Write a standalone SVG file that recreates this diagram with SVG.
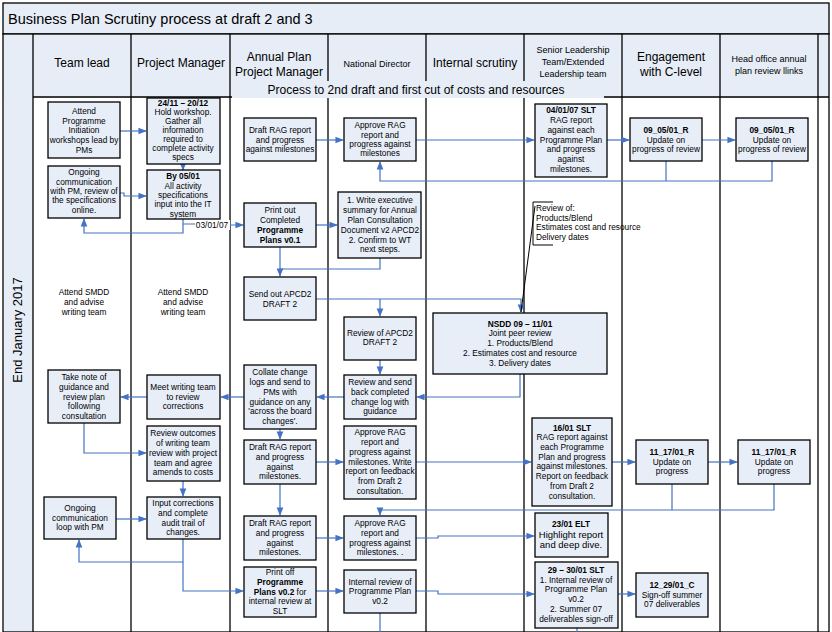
<svg xmlns="http://www.w3.org/2000/svg" width="832" height="632" viewBox="0 0 832 632">
<defs>
<style>
.b{fill:#E8EEF8;stroke:#000;stroke-width:1.3}
.t{font-family:"Liberation Sans",Arial,sans-serif;font-size:8.3px;fill:#000;text-anchor:middle}
.bd{font-weight:bold}
.h{font-family:"Liberation Sans",Arial,sans-serif;font-size:12px;fill:#000;text-anchor:middle}
.hs{font-family:"Liberation Sans",Arial,sans-serif;font-size:9px;fill:#000;text-anchor:middle}
.c{fill:none;stroke:#4472C4;stroke-width:1.2}
.ln{stroke:#000;stroke-width:1.3}
</style>
<marker id="a" viewBox="0 0 10 10" refX="9" refY="5" markerWidth="7" markerHeight="7" orient="auto"><path d="M0,1 L10,5 L0,9 Z" fill="#4472C4"/></marker>
</defs>
<rect x="0" y="0" width="832" height="632" fill="#fff"/>
<g id="frame">
<rect x="3" y="3" width="826" height="31" fill="#E6EDF7" stroke="#000" stroke-width="1.3"/>
<text x="8" y="24" font-family="Liberation Sans,Arial,sans-serif" font-size="14.5">Business Plan Scrutiny process at draft 2 and 3</text>
<rect x="3" y="34" width="826" height="64" fill="#E6EDF7"/>
<rect x="4" y="34" width="29" height="598" fill="#E6EDF7"/>
<rect x="3" y="34" width="826" height="598" fill="none" stroke="#000" stroke-width="1.3"/>
<line class="ln" x1="33" y1="97" x2="829" y2="97"/>
<line class="ln" x1="33" y1="34" x2="33" y2="632"/>
<line class="ln" x1="131" y1="34" x2="131" y2="632"/>
<line class="ln" x1="230" y1="34" x2="230" y2="632"/>
<line class="ln" x1="328" y1="34" x2="328" y2="632"/>
<line class="ln" x1="426" y1="34" x2="426" y2="632"/>
<line class="ln" x1="524" y1="34" x2="524" y2="632"/>
<line class="ln" x1="622" y1="34" x2="622" y2="632"/>
<line class="ln" x1="720" y1="34" x2="720" y2="632"/>
<line class="ln" x1="818" y1="34" x2="818" y2="632"/>
<text class="h" x="82" y="67">Team lead</text>
<text class="h" x="181" y="67">Project Manager</text>
<text class="h" x="279" y="61">Annual Plan</text>
<text class="h" x="279" y="76">Project Manager</text>
<text class="hs" x="377" y="67">National Director</text>
<text class="h" x="475" y="67">Internal scrutiny</text>
<text class="hs" x="573" y="53">Senior Leadership</text>
<text class="hs" x="573" y="65">Team/Extended</text>
<text class="hs" x="573" y="77">Leadership team</text>
<text class="h" x="671" y="61">Engagement</text>
<text class="h" x="671" y="76">with C-level</text>
<text class="hs" x="769" y="62">Head office annual</text>
<text class="hs" x="769" y="74">plan review llinks</text>
<rect x="232" y="81" width="372" height="17" fill="#E6EDF7"/>
<text class="h" x="416" y="94" font-size="13">Process to 2nd draft and first cut of costs and resources</text>
<text x="22" y="330" transform="rotate(-90 22 330)" font-family="Liberation Sans,Arial,sans-serif" font-size="13" text-anchor="middle">End January 2017</text>
<text class="t" x="84" y="295">Attend SMDD</text><text class="t" x="84" y="305">and advise</text><text class="t" x="84" y="315">writing team</text>
<text class="t" x="183" y="295">Attend SMDD</text><text class="t" x="183" y="305">and advise</text><text class="t" x="183" y="315">writing team</text>
</g>
<g id="connectors">
<path class="c" d="M120,131 H146" marker-end="url(#a)"/>
<path class="c" d="M183,164 V170" marker-end="url(#a)"/>
<path class="c" d="M120,193 H124 V196 H146" marker-end="url(#a)"/>
<path class="c" d="M183,219 V233 H84 V219" marker-end="url(#a)"/>
<path class="c" d="M183,224 H195 M229,225 H243" marker-end="url(#a)"/>
<path class="c" d="M316,140 H343" marker-end="url(#a)"/>
<path class="c" d="M416,140 H534" marker-end="url(#a)"/>
<path class="c" d="M607,140 H629" marker-end="url(#a)"/>
<path class="c" d="M702,140 H735" marker-end="url(#a)"/>
<path class="c" d="M666,161 V181 M772,161 V181 H380 V162" marker-end="url(#a)"/>
<path class="c" d="M316,225 H337" marker-end="url(#a)"/>
<path class="c" d="M280,247 V276" marker-end="url(#a)"/>
<path class="c" d="M380,258 V269 H280"/>
<path class="c" d="M316,299 H521 V312" marker-end="url(#a)"/>
<path class="c" d="M380,299 V316" marker-end="url(#a)"/>
<path class="c" d="M380,360 V374" marker-end="url(#a)"/>
<path class="c" d="M520,374 V397 H417" marker-end="url(#a)"/>
<path class="c" d="M344,397 H317" marker-end="url(#a)"/>
<path class="c" d="M244,397 H221" marker-end="url(#a)"/>
<path class="c" d="M147,397 H121" marker-end="url(#a)"/>
<path class="c" d="M84,423 V453 H146" marker-end="url(#a)"/>
<path class="c" d="M280,429 V439" marker-end="url(#a)"/>
<path class="c" d="M316,462 H343" marker-end="url(#a)"/>
<path class="c" d="M416,462 H531" marker-end="url(#a)"/>
<path class="c" d="M612,462 H635" marker-end="url(#a)"/>
<path class="c" d="M708,462 H737" marker-end="url(#a)"/>
<path class="c" d="M672,484 V510 M774,484 V510 H380 V515" marker-end="url(#a)"/>
<path class="c" d="M280,484 V515" marker-end="url(#a)"/>
<path class="c" d="M183,481 V496" marker-end="url(#a)"/>
<path class="c" d="M116,519 H146" marker-end="url(#a)"/>
<path class="c" d="M183,539 V562 H79 V540" marker-end="url(#a)"/>
<path class="c" d="M183,562 V591 H243" marker-end="url(#a)"/>
<path class="c" d="M316,538 H343" marker-end="url(#a)"/>
<path class="c" d="M416,538 H438 V536 H534" marker-end="url(#a)"/>
<path class="c" d="M316,591 H343" marker-end="url(#a)"/>
<path class="c" d="M416,591 H438 V594 H534" marker-end="url(#a)"/>
<path class="c" d="M618,594 H635" marker-end="url(#a)"/>
<path class="c" d="M380,613 V632 M577,628 V632"/>
<path d="M521,312 L535,206" stroke="#000" stroke-width="1" fill="none"/>
<path d="M553,202 H533 V245 H553" stroke="#000" stroke-width="1" fill="none"/>
<rect x="196" y="220" width="34" height="10" fill="#fff"/>
<text x="212" y="228" class="t">03/01/07</text>
</g>
<g id="n1"><rect class="b" x="48" y="102" width="72" height="56"/><text class="t"><tspan x="84" y="114">Attend</tspan><tspan x="84" y="124">Programme</tspan><tspan x="84" y="133">Initiation</tspan><tspan x="84" y="143">workshops lead by</tspan><tspan x="84" y="153">PMs</tspan></text></g>
<g id="n2"><rect class="b" x="147" y="98" width="73" height="66"/><text class="t" font-size="8"><tspan x="183" y="106" class="bd">24/11 – 20/12</tspan><tspan x="183" y="115">Hold workshop.</tspan><tspan x="183" y="124">Gather all</tspan><tspan x="183" y="133">information</tspan><tspan x="183" y="142">required to</tspan><tspan x="183" y="151">complete activity</tspan><tspan x="183" y="160">specs</tspan></text></g>
<g id="n3"><rect class="b" x="48" y="166" width="72" height="52"/><text class="t"><tspan x="84" y="175">Ongoing</tspan><tspan x="84" y="185">communication</tspan><tspan x="84" y="194">with PM, review of</tspan><tspan x="84" y="203">the specifications</tspan><tspan x="84" y="213">online.</tspan></text></g>
<g id="n4"><rect class="b" x="147" y="170" width="73" height="49"/><text class="t"><tspan x="183" y="179" class="bd">By 05/01</tspan><tspan x="183" y="189">All activity</tspan><tspan x="183" y="198">specifications</tspan><tspan x="183" y="207">input into the IT</tspan><tspan x="183" y="217">system</tspan></text></g>
<g id="n5"><rect class="b" x="244" y="118" width="72" height="43"/><text class="t"><tspan x="280" y="133">Draft RAG report</tspan><tspan x="280" y="143">and progress</tspan><tspan x="280" y="152">against milestones</tspan></text></g>
<g id="n6"><rect class="b" x="344" y="118" width="72" height="43"/><text class="t"><tspan x="380" y="128">Approve RAG</tspan><tspan x="380" y="138">report and</tspan><tspan x="380" y="147">progress against</tspan><tspan x="380" y="156">milestones</tspan></text></g>
<g id="n7"><rect class="b" x="535" y="104" width="72" height="73"/><text class="t"><tspan x="571" y="113" class="bd">04/01/07 SLT</tspan><tspan x="571" y="123">RAG report</tspan><tspan x="571" y="133">against each</tspan><tspan x="571" y="143">Programme Plan</tspan><tspan x="571" y="152">and progress</tspan><tspan x="571" y="162">against</tspan><tspan x="571" y="172">milestones.</tspan></text></g>
<g id="n8"><rect class="b" x="630" y="118" width="72" height="43"/><text class="t"><tspan x="666" y="133" class="bd">09_05/01_R</tspan><tspan x="666" y="143">Update on</tspan><tspan x="666" y="152">progress of review</tspan></text></g>
<g id="n9"><rect class="b" x="736" y="118" width="72" height="43"/><text class="t"><tspan x="772" y="133" class="bd">09_05/01_R</tspan><tspan x="772" y="143">Update on</tspan><tspan x="772" y="152">progress of review</tspan></text></g>
<g id="n10"><rect class="b" x="244" y="203" width="72" height="44"/><text class="t"><tspan x="280" y="213">Print out</tspan><tspan x="280" y="223">Completed</tspan><tspan x="280" y="233" class="bd">Programme</tspan><tspan x="280" y="243" class="bd">Plans v0.1</tspan></text></g>
<g id="n11"><rect class="b" x="338" y="192" width="83" height="66"/><text class="t"><tspan x="380" y="203">1. Write executive</tspan><tspan x="380" y="213">summary for Annual</tspan><tspan x="380" y="223">Plan Consultation</tspan><tspan x="380" y="233">Document v2 APCD2</tspan><tspan x="380" y="243">2. Confirm to WT</tspan><tspan x="380" y="252">next steps.</tspan></text></g>
<g id="n12"><text class="t" style="text-anchor:start"><tspan x="536" y="211">Review of:</tspan><tspan x="536" y="221">Products/Blend</tspan><tspan x="536" y="230">Estimates cost and resource</tspan><tspan x="536" y="240">Delivery dates</tspan></text></g>
<g id="n13"><rect class="b" x="244" y="277" width="72" height="43"/><text class="t"><tspan x="280" y="297">Send out APCD2</tspan><tspan x="280" y="307">DRAFT 2</tspan></text></g>
<g id="n14"><rect class="b" x="344" y="317" width="72" height="43"/><text class="t"><tspan x="380" y="336">Review of APCD2</tspan><tspan x="380" y="345">DRAFT 2</tspan></text></g>
<g id="n15"><rect class="b" x="433" y="313" width="174" height="61"/><text class="t"><tspan x="520" y="327" class="bd">NSDD 09 – 11/01</tspan><tspan x="520" y="336">Joint peer review</tspan><tspan x="520" y="346">1. Products/Blend</tspan><tspan x="520" y="356">2. Estimates cost and resource</tspan><tspan x="520" y="366">3. Delivery dates</tspan></text></g>
<g id="n16"><rect class="b" x="48" y="370" width="72" height="53"/><text class="t"><tspan x="84" y="380">Take note of</tspan><tspan x="84" y="390">guidance and</tspan><tspan x="84" y="400">review plan</tspan><tspan x="84" y="409">following</tspan><tspan x="84" y="419">consultation</tspan></text></g>
<g id="n17"><rect class="b" x="147" y="375" width="73" height="44"/><text class="t"><tspan x="183" y="390">Meet writing team</tspan><tspan x="183" y="400">to review</tspan><tspan x="183" y="409">corrections</tspan></text></g>
<g id="n18"><rect class="b" x="244" y="365" width="72" height="64"/><text class="t"><tspan x="280" y="375">Collate change</tspan><tspan x="280" y="385">logs and send to</tspan><tspan x="280" y="395">PMs with</tspan><tspan x="280" y="405">guidance on any</tspan><tspan x="280" y="414">'across the board</tspan><tspan x="280" y="424">changes'.</tspan></text></g>
<g id="n19"><rect class="b" x="344" y="375" width="72" height="44"/><text class="t"><tspan x="380" y="385">Review and send</tspan><tspan x="380" y="395">back completed</tspan><tspan x="380" y="405">change log with</tspan><tspan x="380" y="414">guidance</tspan></text></g>
<g id="n20"><rect class="b" x="147" y="426" width="73" height="55"/><text class="t"><tspan x="183" y="436">Review outcomes</tspan><tspan x="183" y="446">of writing team</tspan><tspan x="183" y="456">review with project</tspan><tspan x="183" y="466">team and agree</tspan><tspan x="183" y="475">amends to costs</tspan></text></g>
<g id="n21"><rect class="b" x="244" y="440" width="72" height="44"/><text class="t"><tspan x="280" y="450">Draft RAG report</tspan><tspan x="280" y="460">and progress</tspan><tspan x="280" y="470">against</tspan><tspan x="280" y="479">milestones.</tspan></text></g>
<g id="n22"><rect class="b" x="344" y="426" width="72" height="73"/><text class="t"><tspan x="380" y="435">Approve RAG</tspan><tspan x="380" y="445">report and</tspan><tspan x="380" y="455">progress against</tspan><tspan x="380" y="465">milestones. Write</tspan><tspan x="380" y="474">report on feedback</tspan><tspan x="380" y="484">from Draft 2</tspan><tspan x="380" y="494">consultation.</tspan></text></g>
<g id="n23"><rect class="b" x="532" y="418" width="80" height="88"/><text class="t"><tspan x="572" y="431" class="bd">16/01 SLT</tspan><tspan x="572" y="440">RAG report against</tspan><tspan x="572" y="450">each Programme</tspan><tspan x="572" y="460">Plan and progress</tspan><tspan x="572" y="469">against milestones.</tspan><tspan x="572" y="479">Report on feedback</tspan><tspan x="572" y="489">from Draft 2</tspan><tspan x="572" y="499">consultation.</tspan></text></g>
<g id="n24"><rect class="b" x="636" y="440" width="72" height="44"/><text class="t"><tspan x="672" y="455" class="bd">11_17/01_R</tspan><tspan x="672" y="465">Update on</tspan><tspan x="672" y="474">progress</tspan></text></g>
<g id="n25"><rect class="b" x="738" y="440" width="72" height="44"/><text class="t"><tspan x="774" y="455" class="bd">11_17/01_R</tspan><tspan x="774" y="465">Update on</tspan><tspan x="774" y="474">progress</tspan></text></g>
<g id="n26"><rect class="b" x="44" y="497" width="72" height="42"/><text class="t"><tspan x="80" y="511">Ongoing</tspan><tspan x="80" y="521">communication</tspan><tspan x="80" y="530">loop with PM</tspan></text></g>
<g id="n27"><rect class="b" x="147" y="497" width="73" height="42"/><text class="t"><tspan x="183" y="506">Input corrections</tspan><tspan x="183" y="516">and complete</tspan><tspan x="183" y="526">audit trail of</tspan><tspan x="183" y="535">changes.</tspan></text></g>
<g id="n28"><rect class="b" x="244" y="516" width="72" height="44"/><text class="t"><tspan x="280" y="526">Draft RAG report</tspan><tspan x="280" y="536">and progress</tspan><tspan x="280" y="546">against</tspan><tspan x="280" y="555">milestones.</tspan></text></g>
<g id="n29"><rect class="b" x="344" y="516" width="72" height="44"/><text class="t"><tspan x="380" y="526">Approve RAG</tspan><tspan x="380" y="536">report and</tspan><tspan x="380" y="546">progress against</tspan><tspan x="380" y="555">milestones. .</tspan></text></g>
<g id="n30"><rect class="b" x="535" y="513" width="73" height="44"/><text class="t"><tspan x="571" y="527" class="bd">23/01 ELT</tspan><tspan x="571" y="538" font-size="9.5">Highlight report</tspan><tspan x="571" y="548" font-size="9.5">and deep dive.</tspan></text></g>
<g id="n31"><rect class="b" x="244" y="567" width="72" height="50"/><text class="t"><tspan x="280" y="575">Print off</tspan><tspan x="280" y="585" class="bd">Programme</tspan><tspan x="280" y="595" class="bd">Plans v0.2 <tspan font-weight="normal">for</tspan></tspan><tspan x="280" y="604">internal review at</tspan><tspan x="280" y="614">SLT</tspan></text></g>
<g id="n32"><rect class="b" x="344" y="570" width="72" height="43"/><text class="t"><tspan x="380" y="585">Internal review of</tspan><tspan x="380" y="594">Programme Plan</tspan><tspan x="380" y="604">v0.2</tspan></text></g>
<g id="n33"><rect class="b" x="535" y="562" width="83" height="66"/><text class="t"><tspan x="576" y="573" class="bd">29 – 30/01 SLT</tspan><tspan x="576" y="583">1. Internal review of</tspan><tspan x="576" y="592">Programme Plan</tspan><tspan x="576" y="602">v0.2</tspan><tspan x="576" y="612">2. Summer 07</tspan><tspan x="576" y="622">deliverables sign-off</tspan></text></g>
<g id="n34"><rect class="b" x="636" y="573" width="72" height="44"/><text class="t"><tspan x="672" y="588" class="bd">12_29/01_C</tspan><tspan x="672" y="598">Sign-off summer</tspan><tspan x="672" y="607">07 deliverables</tspan></text></g>
</svg>
